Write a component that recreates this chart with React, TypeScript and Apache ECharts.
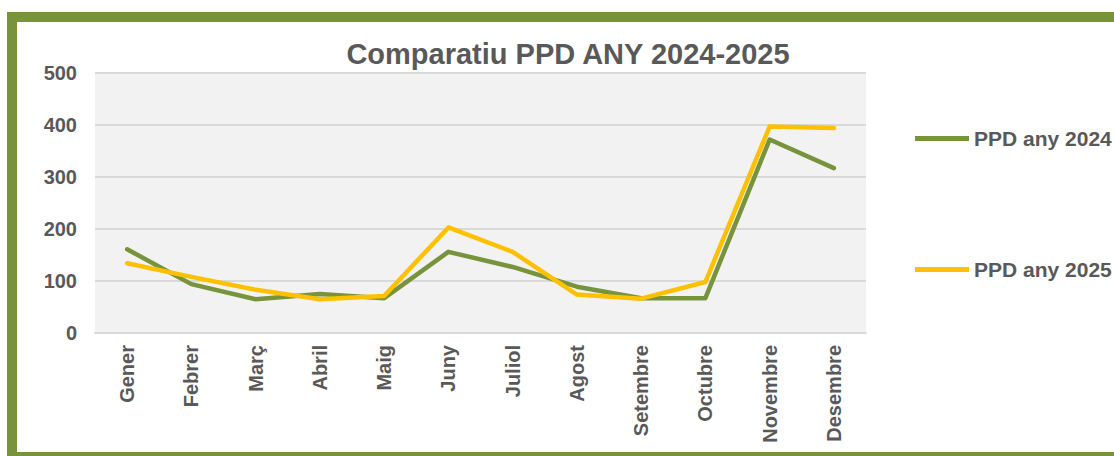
import React, { useEffect, useRef } from "react";
import * as echarts from "echarts";

const months = ["Gener", "Febrer", "Març", "Abril", "Maig", "Juny", "Juliol", "Agost", "Setembre", "Octubre", "Novembre", "Desembre"];
const ppd2024 = [161, 94, 65, 75, 67, 156, 127, 89, 67, 67, 372, 317];
const ppd2025 = [134, 108, 83, 65, 71, 203, 156, 74, 66, 98, 397, 394];
const seriesNames = ["PPD any 2024", "PPD any 2025"];
const titleText = "Comparatiu PPD ANY 2024-2025";

const GREEN = "#77933C";
const YELLOW = "#FFC000";
const TEXT = "#595959";
const FONT = "'Liberation Sans', Arial, sans-serif";

export default function App() {
  const ref = useRef<HTMLDivElement>(null);
  useEffect(() => {
    if (!ref.current) return;
    const chart = echarts.init(ref.current, undefined, { renderer: "svg" });
    const legendText = { color: TEXT, fontSize: 21, fontWeight: "bold", fontFamily: FONT };
    chart.setOption({
      animation: false,
      backgroundColor: "#ffffff",
      title: {
        text: titleText,
        left: 563,
        textAlign: "center",
        top: 34,
        textStyle: { color: TEXT, fontSize: 29, fontWeight: "bold", fontFamily: FONT },
      },
      graphic: [
        {
          type: "rect",
          shape: { x: 12, y: 17, width: 1130, height: 440 },
          style: { fill: "none", stroke: GREEN, lineWidth: 10 },
          silent: true,
        },
      ],
      legend: [
        {
          data: [seriesNames[0]],
          left: 910,
          top: 123,
          itemWidth: 54,
          itemHeight: 5,
          icon: "rect",
          textStyle: legendText,
        },
        {
          data: [seriesNames[1]],
          left: 910,
          top: 254,
          itemWidth: 54,
          itemHeight: 5,
          icon: "rect",
          textStyle: legendText,
        },
      ],
      grid: {
        left: 95,
        right: 248,
        top: 73,
        bottom: 123,
        show: true,
        backgroundColor: "#F2F2F2",
        borderWidth: 0,
        containLabel: false,
      },
      xAxis: {
        type: "category",
        data: months,
        boundaryGap: true,
        axisLine: { show: true, lineStyle: { color: "#D9D9D9", width: 2 } },
        axisTick: { show: false },
        axisLabel: {
          rotate: 90,
          interval: 0,
          margin: 12,
          color: TEXT,
          fontSize: 20,
          fontWeight: "bold",
          fontFamily: FONT,
        },
      },
      yAxis: {
        type: "value",
        min: 0,
        max: 500,
        interval: 100,
        axisLine: { show: false },
        axisTick: { show: false },
        splitLine: { lineStyle: { color: "#D9D9D9", width: 2 } },
        axisLabel: { color: TEXT, fontSize: 20, fontWeight: "bold", fontFamily: FONT, margin: 18 },
      },
      series: [
        {
          name: seriesNames[0],
          type: "line",
          data: ppd2024,
          symbol: "none",
          lineStyle: { color: GREEN, width: 4.5, cap: "round", join: "round" },
          itemStyle: { color: GREEN },
        },
        {
          name: seriesNames[1],
          type: "line",
          data: ppd2025,
          symbol: "none",
          lineStyle: { color: YELLOW, width: 4.5, cap: "round", join: "round" },
          itemStyle: { color: YELLOW },
        },
      ],
    });
    return () => chart.dispose();
  }, []);
  return (
    <div
      ref={ref}
      style={{ position: "fixed", left: 0, top: 0, width: 1114, height: 456 }}
    />
  );
}
